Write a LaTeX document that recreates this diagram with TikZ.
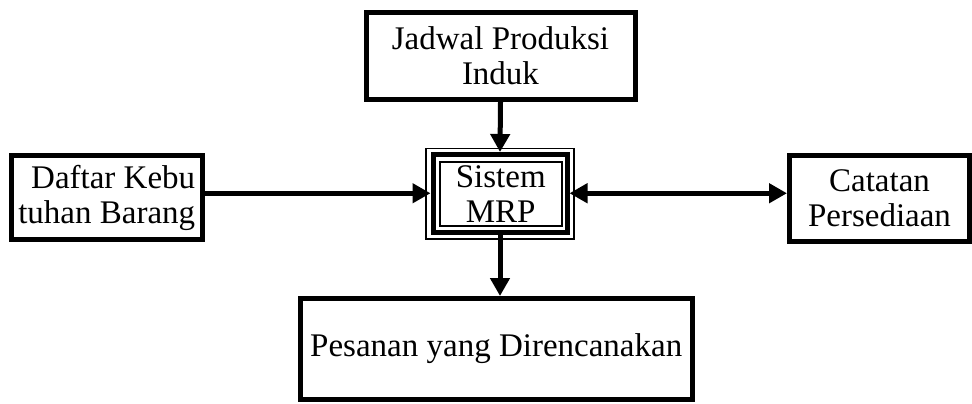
\documentclass[tikz,border=0pt]{standalone}
\usepackage{fontspec}
\setmainfont{Liberation Serif}
\usetikzlibrary{arrows.meta}

\begin{document}
\begin{tikzpicture}[x=1pt,y=-1pt,
  txt/.style={font=\fontsize{33}{35}\selectfont},
  blk/.style={draw=black,line width=5pt,fill=white,inner sep=0pt,align=center,txt},
  flow/.style={line width=5pt,-{Triangle[width=19pt,length=18pt]}},
  flowboth/.style={line width=5pt,{Triangle[width=19pt,length=18pt]}-{Triangle[width=19pt,length=18pt]}}]
  \useasboundingbox (0,0) rectangle (972,404);

  % input and output blocks
  \node[blk,minimum width=269pt,minimum height=87pt] (jp) at (500.5,56)
    {Jadwal Produksi\\Induk};
  \node[blk,minimum width=191.5pt,minimum height=84pt,align=right] (dk) at (106.75,197.5)
    {Daftar Kebu\\tuhan Barang};
  \node[blk,minimum width=180pt,minimum height=86pt] (cp) at (879.5,198.5)
    {Catatan\\Persediaan};
  \node[blk,minimum width=392.5pt,minimum height=101pt] (pd) at (496.25,349)
    {Pesanan yang Direncanakan};

  % MRP system: triple frame
  \node[draw=black,line width=1.5pt,minimum width=148pt,minimum height=90.5pt] (mrpout) at (500,193.75) {};
  \node[draw=black,line width=5pt,minimum width=134pt,minimum height=77.5pt] (mrpmid) at (500,193.25) {};
  \node[draw=black,line width=2pt,minimum width=122.5pt,minimum height=64.5pt,
        inner sep=0pt,align=center,txt] (mrp) at (500.75,193.75) {Sistem\\MRP};

  % connectors
  \draw[flow] (jp.south) -- (mrpmid.north);
  \draw[flow] (dk.east |- mrpmid.west) -- (mrpmid.west);
  \draw[flowboth] (mrpmid.east) -- (cp.west |- mrpmid.east);
  \draw[flow] (mrpmid.south) -- (mrpmid.south |- pd.north);
\end{tikzpicture}
\end{document}
